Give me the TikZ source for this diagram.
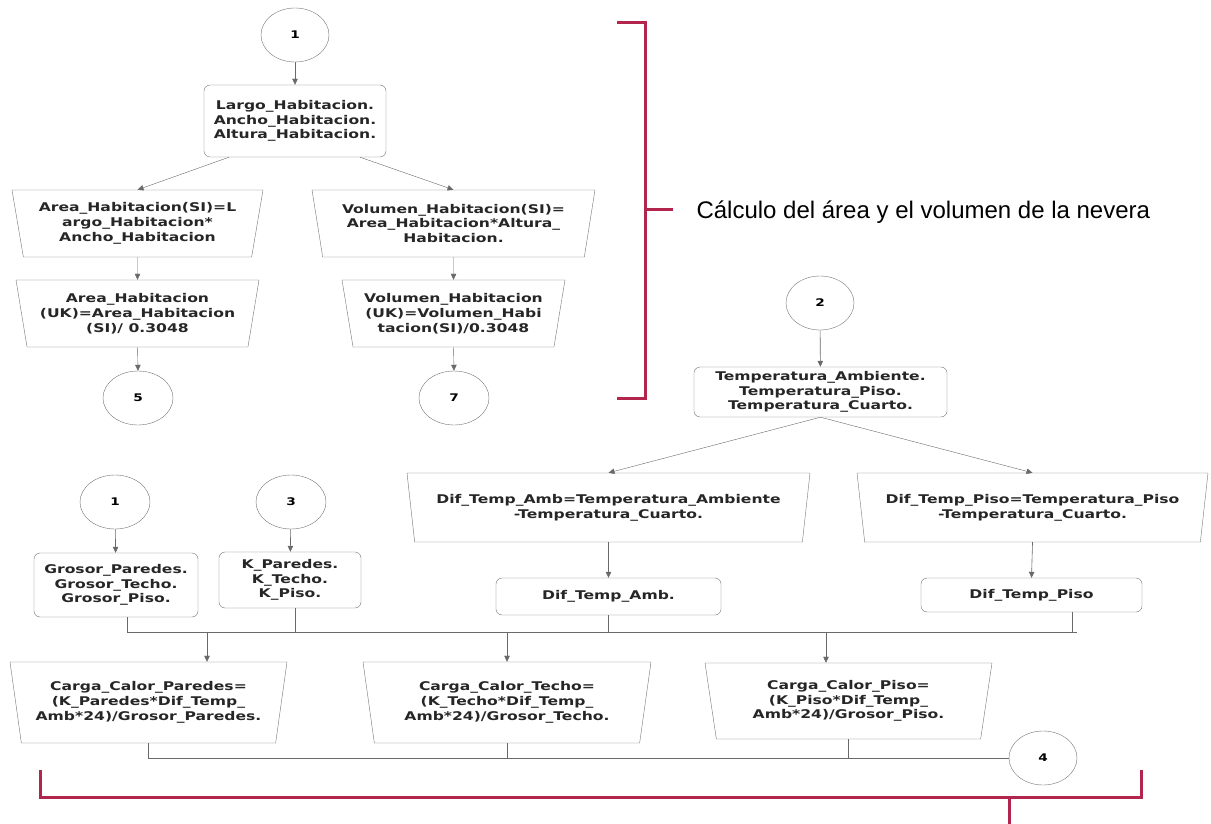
\documentclass[tikz,border=0pt]{standalone}
\usepackage{fontspec}
\setmainfont{Liberation Sans}
\newfontfamily\flowfont[FakeStretch=1.3]{DejaVu Sans}
\usetikzlibrary{shapes.geometric,arrows.meta}
\definecolor{linegray}{RGB}{105,105,105}
\definecolor{boxgray}{RGB}{115,115,115}
\definecolor{bracered}{RGB}{178,38,78}
\tikzset{
  flowtext/.style={font=\flowfont\bfseries\fontsize{12}{14.8}\selectfont, align=center, text=black!85},
  connector/.style={draw=boxgray, ellipse, minimum width=68pt, minimum height=54pt, inner sep=0pt,
    font=\flowfont\bfseries\fontsize{10.5}{12}\selectfont},
  databox/.style={flowtext, draw=boxgray, rounded corners=6pt, inner sep=2pt},
  calcbox/.style={flowtext, draw=boxgray, trapezium, trapezium stretches body, shape border rotate=180,
    trapezium left angle=76, trapezium right angle=76, inner xsep=0pt, inner ysep=2pt},
  arr/.style={draw=linegray, -{Triangle[length=6pt,width=5.5pt]}},
  wire/.style={draw=linegray},
  brace/.style={draw=bracered, line width=3pt}
}
\begin{document}
\begin{tikzpicture}[x=1pt,y=-1pt]
  \useasboundingbox (0,0) rectangle (1211,824);
  % Room size block
  \node[connector] (uno) at (295,35) {1};
  \node[databox, minimum width=182pt, minimum height=72pt] (largo) at (295,121)
    {Largo\_Habitacion.\\Ancho\_Habitacion.\\Altura\_Habitacion.};
  \node[calcbox, minimum width=251pt, minimum height=67pt] (areaSI) at (137.5,223.5)
    {Area\_Habitacion(SI)=L\\argo\_Habitacion*\\Ancho\_Habitacion};
  \node[calcbox, minimum width=283pt, minimum height=67pt] (volSI) at (453.5,223.5)
    {Volumen\_Habitacion(SI)=\\Area\_Habitacion*Altura\_\\Habitacion.};
  \node[calcbox, minimum width=243pt, minimum height=67pt] (areaUK) at (137.5,313.5)
    {Area\_Habitacion\\(UK)=Area\_Habitacion\\(SI)/ 0.3048};
  \node[calcbox, minimum width=223pt, minimum height=67pt] (volUK) at (453.5,313.5)
    {Volumen\_Habitacion\\(UK)=Volumen\_Habi\\tacion(SI)/0.3048};
  \node[connector, minimum width=70pt] (cinco) at (138,398) {5};
  \node[connector, minimum width=70pt] (siete) at (454,398) {7};
  \draw[arr] (uno) -- (largo);
  \draw[arr] ([xshift=-66pt]largo.south) -- (areaSI.north);
  \draw[arr] ([xshift=65pt]largo.south) -- (volSI.north);
  \draw[arr] (areaSI.south) -- (areaUK.north);
  \draw[arr] (volSI.south) -- (volUK.north);
  \draw[arr] (areaUK.south) -- (cinco.north);
  \draw[arr] (volUK.south) -- (siete.north);
  % Brace and caption
  \draw[brace] (617,23) -- (645,23) -- (645,398) -- (617,398);
  \draw[brace] (645,210) -- (673,210);
  \node[anchor=west, font=\fontsize{24}{28}\selectfont] (titulo) at (693,212)
    {Cálculo del área y el volumen de la nevera};
  % Temperatures
  \node[connector] (dos) at (820,303) {2};
  \node[databox, minimum width=253pt, minimum height=50pt] (temp) at (820.5,392)
    {Temperatura\_Ambiente.\\Temperatura\_Piso.\\Temperatura\_Cuarto.};
  \node[calcbox, minimum width=403pt, minimum height=69pt] (difAmb) at (608.5,507.5)
    {Dif\_Temp\_Amb=Temperatura\_Ambiente\\-Temperatura\_Cuarto.};
  \node[calcbox, minimum width=351pt, minimum height=69pt] (difPiso) at (1032.5,507.5)
    {Dif\_Temp\_Piso=Temperatura\_Piso\\-Temperatura\_Cuarto.};
  \node[databox, minimum width=225pt, minimum height=37pt] (dAmb) at (608.5,596.5) {Dif\_Temp\_Amb.};
  \node[databox, minimum width=221pt, minimum height=34pt] (dPiso) at (1031.5,595) {Dif\_Temp\_Piso};
  \draw[arr, semithick] (dos) -- (temp);
  \draw[arr] (temp.south) -- (difAmb.north);
  \draw[arr] (temp.south) -- (difPiso.north);
  \draw[arr, semithick] (difAmb.south) -- (dAmb.north);
  \draw[arr, semithick] (difPiso.south) -- (dPiso.north);
  % Thickness and conductivity
  \node[connector, minimum width=70pt] (unoB) at (115,502) {1};
  \node[connector, minimum width=70pt] (tres) at (291,502) {3};
  \node[databox, minimum width=164pt, minimum height=64pt] (grosor) at (116,585)
    {Grosor\_Paredes.\\Grosor\_Techo.\\Grosor\_Piso.};
  \node[databox, minimum width=142pt, minimum height=56pt] (kbox) at (290,580)
    {K\_Paredes.\\K\_Techo.\\K\_Piso.};
  \draw[arr, semithick] (unoB) -- (grosor);
  \draw[arr, semithick] (tres) -- (kbox);
  % Heat loads
  \node[calcbox, minimum width=277pt, minimum height=81pt] (paredes) at (148.5,702.5)
    {Carga\_Calor\_Paredes=\\(K\_Paredes*Dif\_Temp\_\\Amb*24)/Grosor\_Paredes.};
  \node[calcbox, minimum width=288pt, minimum height=81pt] (techo) at (507,702.5)
    {Carga\_Calor\_Techo=\\(K\_Techo*Dif\_Temp\_\\Amb*24)/Grosor\_Techo.};
  \node[calcbox, minimum width=287pt, minimum height=76pt] (piso) at (848.5,701)
    {Carga\_Calor\_Piso=\\(K\_Piso*Dif\_Temp\_\\Amb*24)/Grosor\_Piso.};
  \node[connector] (cuatro) at (1043,758) {4};
  % Bus lines
  \coordinate (busIzq) at (127,632);
  \coordinate (busDer) at (1077,632);
  \coordinate (kBus) at (295,632);
  \coordinate (pisoBus) at (1072,632);
  \coordinate (inParedes) at (207,632);
  \coordinate (inPiso) at (826,632);
  \draw[wire] (grosor.south -| busIzq) -- (busIzq) -- (busDer);
  \draw[wire] (kbox.south -| kBus) -- (kBus);
  \draw[wire] (dAmb.south) -- (dAmb.south |- busIzq);
  \draw[wire] (dPiso.south -| pisoBus) -- (pisoBus);
  \draw[arr] (inParedes) -- (inParedes |- paredes.north);
  \draw[arr] (techo.north |- busIzq) -- (techo.north);
  \draw[arr] (inPiso) -- (inPiso |- piso.north);
  \draw[wire] (paredes.south) |- (cuatro.west);
  \draw[wire] (techo.south) -- (techo.south |- cuatro.west);
  \draw[wire] (piso.south) -- (piso.south |- cuatro.west);
  % Bottom brace
  \draw[brace] (40,770) -- (40,797) -- (1141,797) -- (1141,770);
  \draw[brace] (1009,797) -- (1009,824);
\end{tikzpicture}
\end{document}
